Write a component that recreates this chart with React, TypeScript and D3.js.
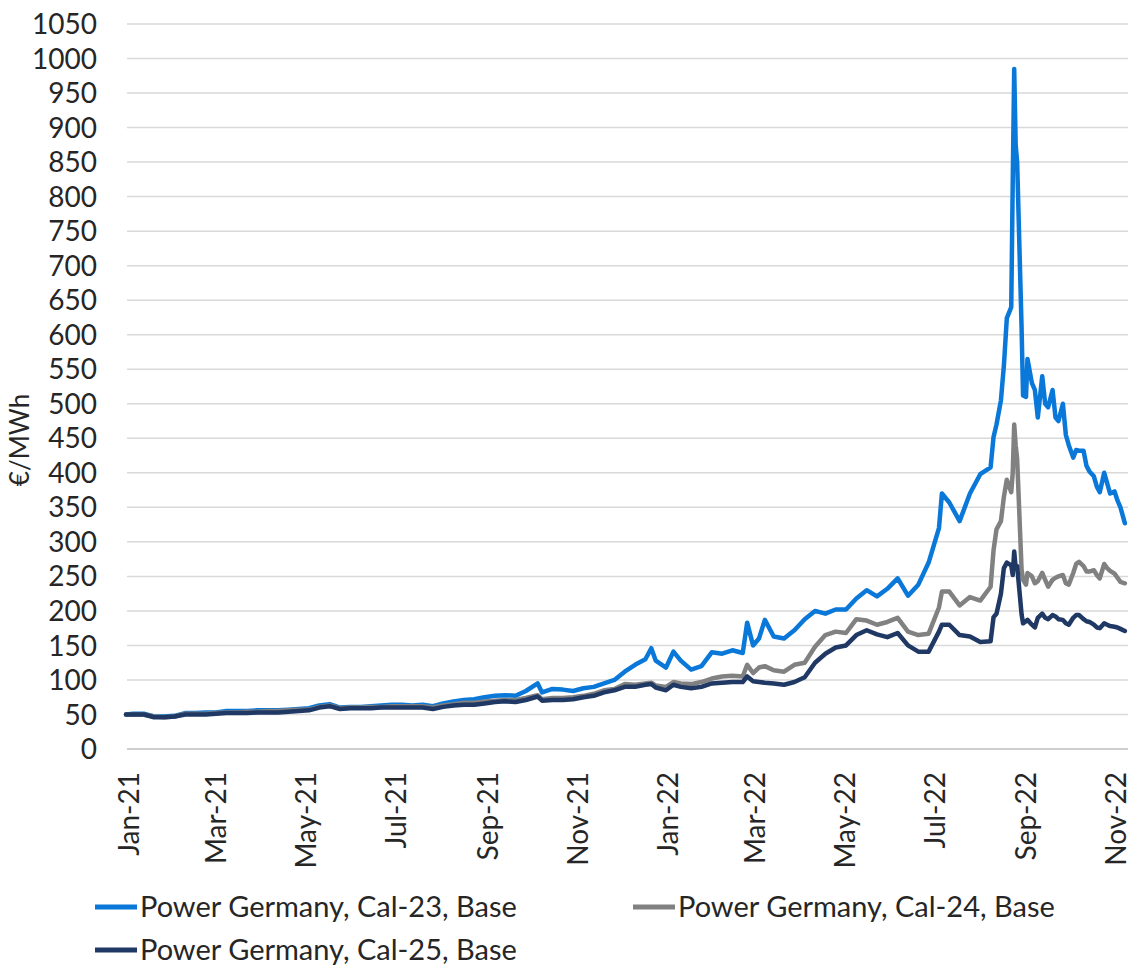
import { useEffect, useRef } from "react";
import * as d3 from "d3";

// ---------------------------------------------------------------------------
// Data (€/MWh)
// ---------------------------------------------------------------------------

const DATES = [
  "2020-12-30", "2021-01-04", "2021-01-11", "2021-01-18", "2021-01-25", "2021-02-01",
  "2021-02-08", "2021-02-15", "2021-02-22", "2021-03-01", "2021-03-08", "2021-03-15",
  "2021-03-22", "2021-03-29", "2021-04-05", "2021-04-12", "2021-04-19", "2021-04-26",
  "2021-05-03", "2021-05-10", "2021-05-17", "2021-05-24", "2021-05-31", "2021-06-07",
  "2021-06-14", "2021-06-21", "2021-06-28", "2021-07-05", "2021-07-12", "2021-07-19",
  "2021-07-26", "2021-08-02", "2021-08-09", "2021-08-16", "2021-08-23", "2021-08-30",
  "2021-09-06", "2021-09-13", "2021-09-20", "2021-09-27", "2021-10-05", "2021-10-08",
  "2021-10-15", "2021-10-22", "2021-10-29", "2021-11-05", "2021-11-12", "2021-11-19",
  "2021-11-26", "2021-12-03", "2021-12-10", "2021-12-17", "2021-12-21", "2021-12-24",
  "2021-12-31", "2022-01-05", "2022-01-10", "2022-01-17", "2022-01-24", "2022-01-31",
  "2022-02-07", "2022-02-14", "2022-02-21", "2022-02-24", "2022-02-28", "2022-03-04",
  "2022-03-08", "2022-03-14", "2022-03-21", "2022-03-28", "2022-04-04", "2022-04-11",
  "2022-04-18", "2022-04-25", "2022-05-02", "2022-05-09", "2022-05-16", "2022-05-23",
  "2022-05-30", "2022-06-06", "2022-06-13", "2022-06-20", "2022-06-27", "2022-07-04",
  "2022-07-06", "2022-07-11", "2022-07-18", "2022-07-25", "2022-08-01", "2022-08-08",
  "2022-08-10", "2022-08-12", "2022-08-15", "2022-08-17", "2022-08-19", "2022-08-22",
  "2022-08-23", "2022-08-24", "2022-08-25", "2022-08-26", "2022-08-29", "2022-08-30",
  "2022-09-01", "2022-09-02", "2022-09-05", "2022-09-07", "2022-09-09", "2022-09-12",
  "2022-09-14", "2022-09-16", "2022-09-19", "2022-09-21", "2022-09-23", "2022-09-26",
  "2022-09-28", "2022-09-30", "2022-10-03", "2022-10-05", "2022-10-07", "2022-10-10",
  "2022-10-12", "2022-10-14", "2022-10-17", "2022-10-19", "2022-10-21", "2022-10-24",
  "2022-10-26", "2022-10-28", "2022-10-31", "2022-11-02", "2022-11-04", "2022-11-07",
];

const CAL23 = [
  50, 51, 51, 47, 47, 48, 52, 52, 53, 53, 55, 55,
  55, 56, 56, 56, 57, 58, 59, 63, 65, 60, 61, 61,
  62, 63, 64, 64, 63, 64, 62, 66, 69, 71, 72, 75,
  77, 78, 77, 84, 95, 82, 87, 86, 84, 88, 90, 95,
  100, 112, 122, 130, 146, 128, 118, 141, 128, 115, 120, 140,
  138, 143, 139, 183, 150, 160, 187, 163, 160, 172, 188, 200,
  196, 202, 202, 218, 230, 221, 232, 247, 222, 238, 270, 320,
  370, 357, 330, 370, 398, 408, 452, 470, 505, 555, 624, 640,
  820, 985, 875, 850, 610, 512, 510, 565, 530, 520, 480, 540,
  500, 495, 520, 480, 475, 500, 455, 440, 422, 433, 432, 432,
  410, 402, 395, 380, 372, 400, 385, 370, 373, 360, 350, 327,
];

const CAL24 = [
  50, 50, 50, 47, 46, 47, 51, 51, 51, 52, 53, 53,
  54, 54, 55, 55, 56, 57, 57, 61, 63, 59, 60, 60,
  61, 61, 62, 62, 62, 62, 60, 63, 65, 67, 67, 69,
  70, 71, 71, 74, 78, 72, 74, 74, 75, 77, 80, 85,
  87, 94, 93, 95, 96, 92, 90, 97, 95, 94, 97, 102,
  105, 106, 105, 122, 110, 118, 120, 114, 112, 122, 125, 148,
  165, 170, 168, 188, 186, 180, 184, 190, 170, 165, 167, 205,
  228, 228, 208, 220, 215, 235, 288, 318, 330, 365, 390, 372,
  400, 470, 440, 420, 260, 245, 238, 255, 250, 240, 243, 255,
  245, 235, 245, 248, 250, 252, 240, 238, 255, 268, 271, 265,
  257, 257, 259, 252, 247, 268, 262, 258, 254, 248, 242, 240,
];

const CAL25 = [
  50, 50, 50, 46, 46, 47, 50, 50, 50, 51, 52, 52,
  52, 53, 53, 53, 54, 55, 56, 60, 62, 58, 59, 59,
  59, 60, 60, 60, 60, 60, 58, 61, 63, 64, 64, 66,
  68, 69, 68, 71, 76, 70, 71, 71, 72, 75, 77, 82,
  85, 90, 90, 93, 94, 89, 85, 93, 90, 88, 90, 95,
  96, 97, 97, 105, 98, 97, 96, 95, 93, 97, 104, 125,
  138, 147, 150, 165, 172, 166, 162, 168, 150, 141, 141, 170,
  180, 180, 165, 163, 155, 156, 191, 196, 225, 262, 270, 266,
  252, 286, 262, 265, 195, 182, 185, 187, 180, 176, 190, 196,
  190, 188, 194, 192, 188, 187, 182, 180, 190, 194, 194, 188,
  185, 184, 180, 176, 175, 182, 180, 178, 177, 176, 174, 171,
];

const SERIES_NAMES = [
  "Power Germany, Cal-23, Base",
  "Power Germany, Cal-24, Base",
  "Power Germany, Cal-25, Base",
];

const Y_TICKS = [
  0, 50, 100, 150, 200, 250, 300, 350, 400, 450, 500, 550,
  600, 650, 700, 750, 800, 850, 900, 950, 1000, 1050,
];

const X_TICKS = [
  "2021-01-01", "2021-03-01", "2021-05-01", "2021-07-01", "2021-09-01", "2021-11-01",
  "2022-01-01", "2022-03-01", "2022-05-01", "2022-07-01", "2022-09-01", "2022-11-01",
];

const COLORS = ["#0A78D8", "#818181", "#1F3864"];

const FONT = "Lato, 'Liberation Sans', sans-serif";

// ---------------------------------------------------------------------------
// Component
// ---------------------------------------------------------------------------

export default function App() {
  const svgRef = useRef<SVGSVGElement>(null);
  const width = 1131;
  const height = 965;

  useEffect(() => {
    const svg = d3.select(svgRef.current);
    svg.selectAll("*").remove();

    const parse = d3.timeParse("%Y-%m-%d");
    const fmt = d3.timeFormat("%b-%y");

    const plotLeft = 127;
    const plotRight = 1128;

    const x = d3
      .scaleTime()
      .domain([parse("2021-01-01")!, parse("2022-11-01")!])
      .range([129, 1116]);

    const y = d3.scaleLinear().domain([0, 1050]).range([749, 24]);

    // ---- Gridlines ----
    svg
      .append("g")
      .selectAll("line")
      .data(Y_TICKS)
      .join("line")
      .attr("x1", plotLeft)
      .attr("x2", plotRight)
      .attr("y1", (d) => y(d))
      .attr("y2", (d) => y(d))
      .attr("stroke", (d) => (d === 0 ? "#bfbfbf" : "#d9d9d9"))
      .attr("stroke-width", 1.5);

    // ---- Y tick labels ----
    svg
      .append("g")
      .selectAll("text")
      .data(Y_TICKS)
      .join("text")
      .attr("x", 97)
      .attr("y", (d) => y(d))
      .attr("dy", "0.36em")
      .attr("text-anchor", "end")
      .attr("font-family", FONT)
      .attr("font-size", 28)
      .attr("fill", "#262626")
      .text((d) => String(d));

    // y-axis title
    svg
      .append("text")
      .attr("transform", "translate(20,440) rotate(-90)")
      .attr("dy", "0.36em")
      .attr("text-anchor", "middle")
      .attr("font-family", FONT)
      .attr("font-size", 26)
      .attr("fill", "#262626")
      .text("€/MWh");

    // ---- X tick labels (rotated) ----
    svg
      .append("g")
      .selectAll("text")
      .data(X_TICKS.map((s) => parse(s)!))
      .join("text")
      .attr("transform", (d) => `translate(${x(d)},772) rotate(-90)`)
      .attr("dy", "0.36em")
      .attr("text-anchor", "end")
      .attr("font-family", FONT)
      .attr("font-size", 28)
      .attr("fill", "#262626")
      .text((d) => fmt(d));

    // ---- Lines ----
    const dates = DATES.map((s) => parse(s)!);
    const seriesValues = [CAL23, CAL24, CAL25];

    const line = d3
      .line<number>()
      .x((_d, i) => x(dates[i]))
      .y((d) => y(d));

    svg
      .append("g")
      .selectAll("path")
      .data(seriesValues)
      .join("path")
      .attr("d", (d) => line(d))
      .attr("fill", "none")
      .attr("stroke", (_d, i) => COLORS[i])
      .attr("stroke-width", 4.5)
      .attr("stroke-linejoin", "round")
      .attr("stroke-linecap", "round");

    // ---- Legend ----
    const legendPos = [
      { lx: 95, ly: 907 },
      { lx: 633, ly: 907 },
      { lx: 95, ly: 950 },
    ];

    const legend = svg
      .append("g")
      .selectAll("g")
      .data(SERIES_NAMES)
      .join("g")
      .attr("transform", (_d, i) => `translate(${legendPos[i].lx},${legendPos[i].ly})`);

    legend
      .append("line")
      .attr("x1", 0)
      .attr("x2", 42)
      .attr("stroke", (_d, i) => COLORS[i])
      .attr("stroke-width", 5);

    legend
      .append("text")
      .attr("x", 45)
      .attr("dy", "0.36em")
      .attr("font-family", FONT)
      .attr("font-size", 29)
      .attr("fill", "#262626")
      .text((d) => d);
  }, []);

  return (
    <div style={{ position: "absolute", left: 0, top: 0, background: "#fff" }}>
      <svg ref={svgRef} width={width} height={height} style={{ display: "block" }} />
    </div>
  );
}
